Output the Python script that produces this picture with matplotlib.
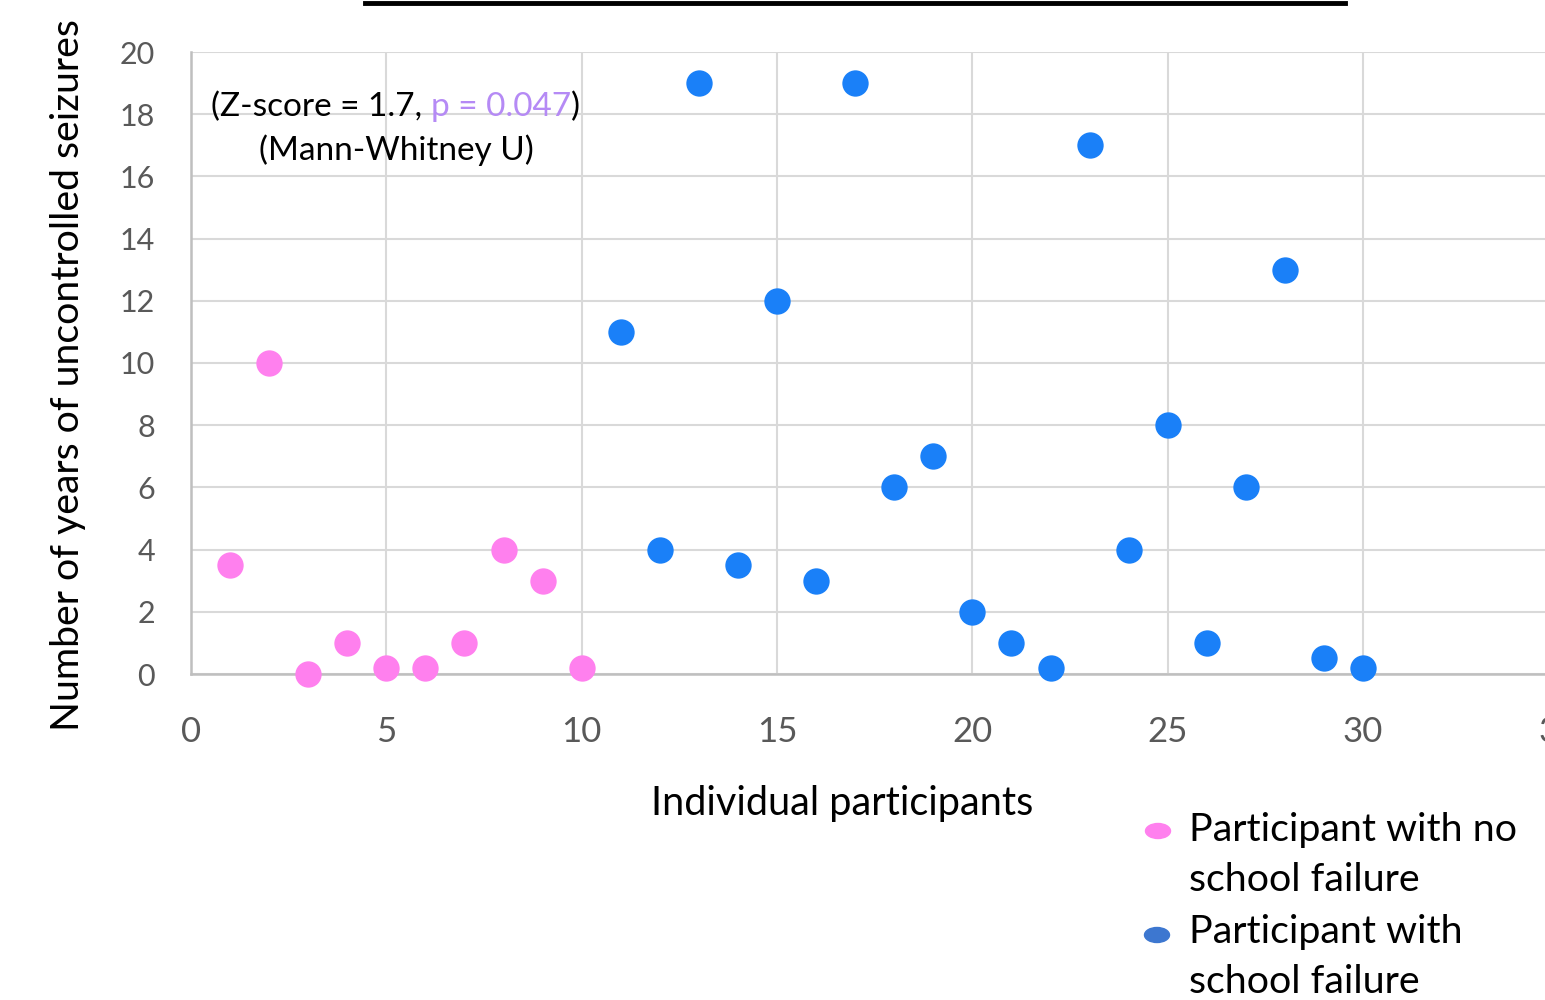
import matplotlib.pyplot as plt
from matplotlib.patches import Ellipse
from matplotlib.lines import Line2D

plt.rcParams['font.family'] = ['Lato', 'DejaVu Sans']

# participants without school failure
x_no_fail = [1, 2, 3, 4, 5, 6, 7, 8, 9, 10]
y_no_fail = [3.5, 10, 0, 1, 0.2, 0.2, 1, 4, 3, 0.2]

# participants with school failure
x_fail = [11, 12, 13, 14, 15, 16, 17, 18, 19, 20,
          21, 22, 23, 24, 25, 26, 27, 28, 29, 30]
y_fail = [11, 4, 19, 3.5, 12, 3, 19, 6, 7, 2,
          1, 0.2, 17, 4, 8, 1, 6, 13, 0.5, 0.2]

x_ticks = [0, 5, 10, 15, 20, 25, 30, 35]
y_ticks = [0, 2, 4, 6, 8, 10, 12, 14, 16, 18, 20]

pink = '#ff80ee'
blue = '#1a80f8'
grid_c = '#d9d9d9'
tick_c = '#595959'

W, H = 1545, 1000
fig = plt.figure(figsize=(W / 100, H / 100), dpi=100)
# axes run past the right edge, like the cropped original
ax = fig.add_axes([191 / W, 326 / H, 35 * 39.07 / W, 622 / H])

ax.scatter(x_no_fail, y_no_fail, s=360, color=pink, zorder=3, linewidths=0, clip_on=False)
ax.scatter(x_fail, y_fail, s=360, color=blue, zorder=3, linewidths=0, clip_on=False)

ax.set_xlim(0, 35)
ax.set_ylim(0, 20)
ax.set_xticks(x_ticks)
ax.set_yticks(y_ticks)
ax.grid(True, color=grid_c, lw=1.5)
ax.set_axisbelow(True)
for s in ['top', 'right']:
    ax.spines[s].set_visible(False)
for s in ['left', 'bottom']:
    ax.spines[s].set_color('#bfbfbf')
    ax.spines[s].set_linewidth(1.8)
ax.tick_params(axis='x', length=0, pad=30, labelsize=25, labelcolor=tick_c)
ax.tick_params(axis='y', length=0, pad=26, labelsize=22, labelcolor=tick_c)

fig.text(842 / W, 1 - 804 / H, 'Individual participants', ha='center', va='center', fontsize=28.5)
fig.text(68 / W, 1 - 375 / H, 'Number of years of uncontrolled seizures', rotation=90,
         ha='center', va='center', fontsize=28.3)

# statistics note, with the p value in purple
t1 = fig.text(211 / W, 1 - 122 / H, '(Z-score = 1.7, ', fontsize=24, va='bottom', ha='left')
t2 = ax.annotate('p = 0.047', xy=(1, 0), xycoords=t1, va='bottom', ha='left',
                 fontsize=24, color='#b58af5')
ax.annotate(')', xy=(1, 0), xycoords=t2, va='bottom', ha='left', fontsize=24)
fig.text(396 / W, 1 - 150 / H, '(Mann-Whitney U)', ha='center', va='center', fontsize=24)

# black rule at the top
fig.add_artist(Line2D([365 / W, 1345 / W], [1 - 3 / H, 1 - 3 / H], color='black', lw=3.5))

# legend
fig.add_artist(Ellipse((1158 / W, 1 - 831 / H), 25 / W, 15 / H, color=pink))
fig.add_artist(Ellipse((1157 / W, 1 - 935 / H), 25 / W, 15 / H, color='#3d77d0'))
legend_lines = [('Participant with no', 830), ('school failure', 880),
                ('Participant with', 932), ('school failure', 982)]
for txt, yp in legend_lines:
    fig.text(1189 / W, 1 - yp / H, txt, ha='left', va='center', fontsize=28.4)

fig.savefig('out.png', dpi=100)
